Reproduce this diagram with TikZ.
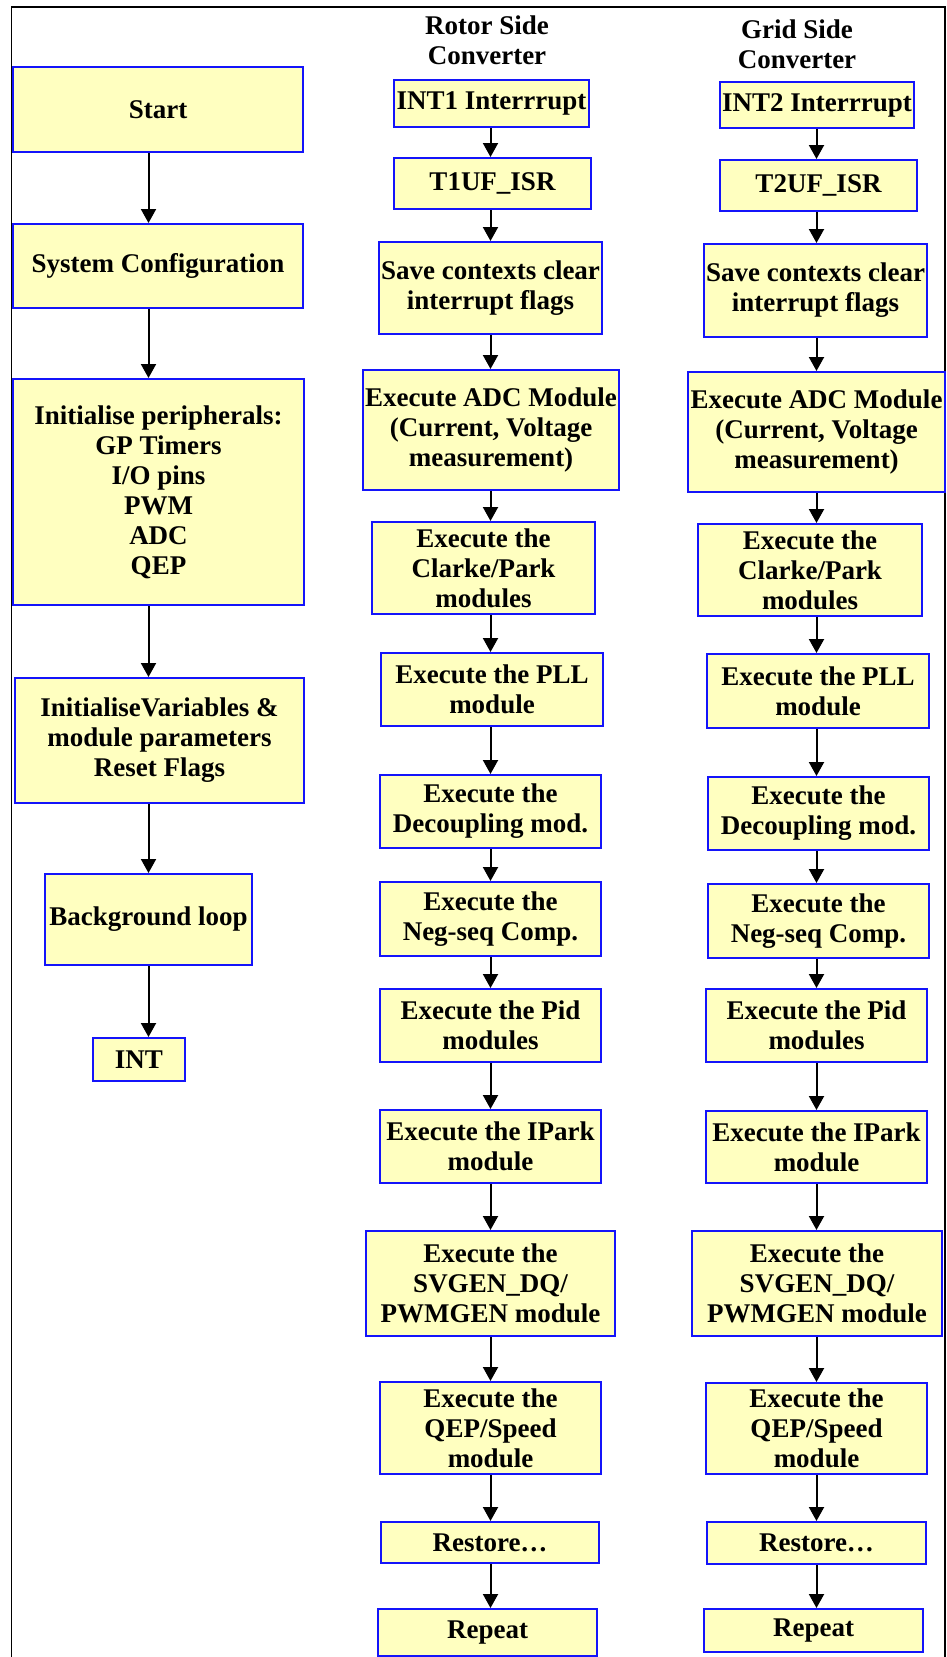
\documentclass[tikz,border=0pt]{standalone}
\usepackage{fontspec}
\setmainfont{Liberation Serif}
\usetikzlibrary{arrows.meta}

\definecolor{boxfill}{RGB}{255,255,192}
\definecolor{boxline}{RGB}{20,20,250}

\tikzset{
  blk/.style={draw=boxline, line width=2pt, fill=boxfill, align=center,
    inner sep=0pt, font=\bfseries\fontsize{27}{30}\selectfont},
  sz/.style 2 args={minimum width=#1pt, minimum height=#2pt},
  ttl/.style={align=center, font=\bfseries\fontsize{27}{30}\selectfont},
  flow/.style={line width=2pt, -{Triangle[length=14pt,width=15pt]}},
}

\begin{document}
\begin{tikzpicture}[x=1pt, y=-1pt]

		\useasboundingbox (0,0) rectangle (946,1657);
		\draw[line width=1.5pt] (11.5,1657) -- (11.5,7) -- (945,7) -- (945,1657);

		% main program
		\node[blk, sz={290}{85}] (start) at (158,109.5) {Start};
		\node[blk, sz={290}{84}] (syscfg) at (158,266) {System Configuration};
		\node[blk, sz={291}{226}] (initp) at (158.5,492) {Initialise peripherals:\\GP Timers\\I/O pins\\PWM\\ADC\\QEP};
		\node[blk, sz={289}{125}] (initv) at (159.5,740.5) {InitialiseVariables \&\\module parameters\\Reset Flags};
		\node[blk, sz={207}{91}] (bgloop) at (148.5,919.5) {Background loop};
		\node[blk, sz={92}{43}] (int) at (139,1059.5) {INT};

		% rotor side converter
		\node[ttl] (rtitle) at (487,40) {Rotor Side\\Converter};
		\node[blk, sz={195}{47}] (int1) at (491.5,103.5) {INT1 Interrrupt};
		\node[blk, sz={197}{51}] (t1uf) at (492.5,183.5) {T1UF\_ISR};
		\node[blk, sz={223}{92}] (save1) at (490.5,288) {Save contexts clear\\interrupt flags};
		\node[blk, sz={256}{120}] (adc1) at (491,430) {Execute ADC Module\\(Current, Voltage\\measurement)};
		\node[blk, sz={223}{92}] (clarke1) at (483.5,568) {Execute the\\Clarke/Park\\modules};
		\node[blk, sz={222}{73}] (pll1) at (492,689.5) {Execute the PLL\\module};
		\node[blk, sz={221}{73}] (dec1) at (490.5,811.5) {Execute the\\Decoupling mod.};
		\node[blk, sz={221}{74}] (neg1) at (490.5,919) {Execute the\\Neg-seq Comp.};
		\node[blk, sz={221}{73}] (pid1) at (490.5,1025.5) {Execute the Pid\\modules};
		\node[blk, sz={221}{73}] (ipark1) at (490.5,1146.5) {Execute the IPark\\module};
		\node[blk, sz={249}{105}] (svgen1) at (490.5,1283.5) {Execute the\\SVGEN\_DQ/\\PWMGEN module};
		\node[blk, sz={221}{92}] (qep1) at (490.5,1428) {Execute the\\QEP/Speed\\module};
		\node[blk, sz={218}{41}] (rest1) at (490,1542.5) {Restore\dots};
		\node[blk, sz={219}{47}] (rep1) at (487.5,1632.5) {Repeat};

		% grid side converter
		\node[ttl] (gtitle) at (797,44) {Grid Side\\Converter};
		\node[blk, sz={194}{46}] (int2) at (817,105) {INT2 Interrrupt};
		\node[blk, sz={197}{51}] (t2uf) at (818.5,185.5) {T2UF\_ISR};
		\node[blk, sz={223}{93}] (save2) at (815.5,290.5) {Save contexts clear\\interrupt flags};
		\node[blk, sz={257}{120}] (adc2) at (816.5,432) {Execute ADC Module\\(Current, Voltage\\measurement)};
		\node[blk, sz={224}{92}] (clarke2) at (810,570) {Execute the\\Clarke/Park\\modules};
		\node[blk, sz={222}{74}] (pll2) at (818,691) {Execute the PLL\\module};
		\node[blk, sz={221}{73}] (dec2) at (818.5,813.5) {Execute the\\Decoupling mod.};
		\node[blk, sz={221}{74}] (neg2) at (818.5,921) {Execute the\\Neg-seq Comp.};
		\node[blk, sz={221}{73}] (pid2) at (816.5,1025.5) {Execute the Pid\\modules};
		\node[blk, sz={221}{72}] (ipark2) at (816.5,1147) {Execute the IPark\\module};
		\node[blk, sz={250}{105}] (svgen2) at (817,1283.5) {Execute the\\SVGEN\_DQ/\\PWMGEN module};
		\node[blk, sz={221}{91}] (qep2) at (816.5,1428.5) {Execute the\\QEP/Speed\\module};
		\node[blk, sz={219}{42}] (rest2) at (816.5,1543) {Restore\dots};
		\node[blk, sz={219}{43}] (rep2) at (813.5,1630.5) {Repeat};

		\path[flow]
		(start.south -| bgloop) edge (syscfg.north -| bgloop)
		(syscfg.south -| bgloop) edge (initp.north -| bgloop)
		(initp.south -| bgloop) edge (initv.north -| bgloop)
		(initv.south -| bgloop) edge (bgloop.north)
		(bgloop.south) edge (int.north -| bgloop)
		(int1.south -| pid1) edge (t1uf.north -| pid1)
		(t1uf.south -| pid1) edge (save1.north -| pid1)
		(save1.south -| pid1) edge (adc1.north -| pid1)
		(adc1.south -| pid1) edge (clarke1.north -| pid1)
		(clarke1.south -| pid1) edge (pll1.north -| pid1)
		(pll1.south -| pid1) edge (dec1.north -| pid1)
		(dec1.south -| pid1) edge (neg1.north -| pid1)
		(neg1.south -| pid1) edge (pid1.north)
		(pid1.south) edge (ipark1.north -| pid1)
		(ipark1.south -| pid1) edge (svgen1.north -| pid1)
		(svgen1.south -| pid1) edge (qep1.north -| pid1)
		(qep1.south -| pid1) edge (rest1.north -| pid1)
		(rest1.south -| pid1) edge (rep1.north -| pid1)
		(int2.south -| pid2) edge (t2uf.north -| pid2)
		(t2uf.south -| pid2) edge (save2.north -| pid2)
		(save2.south -| pid2) edge (adc2.north -| pid2)
		(adc2.south -| pid2) edge (clarke2.north -| pid2)
		(clarke2.south -| pid2) edge (pll2.north -| pid2)
		(pll2.south -| pid2) edge (dec2.north -| pid2)
		(dec2.south -| pid2) edge (neg2.north -| pid2)
		(neg2.south -| pid2) edge (pid2.north)
		(pid2.south) edge (ipark2.north -| pid2)
		(ipark2.south -| pid2) edge (svgen2.north -| pid2)
		(svgen2.south -| pid2) edge (qep2.north -| pid2)
		(qep2.south -| pid2) edge (rest2.north -| pid2)
		(rest2.south -| pid2) edge (rep2.north -| pid2);
\end{tikzpicture}
\end{document}
